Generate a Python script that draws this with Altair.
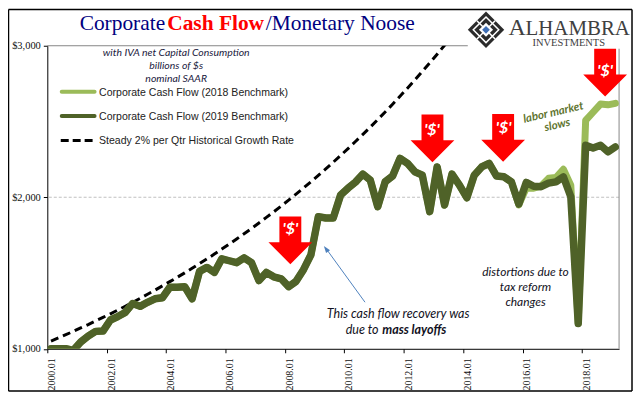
import altair as alt
import pandas as pd

ticks_q = [0, 8, 16, 24, 32, 40, 48, 56, 64, 72]
y_ticks = [1000, 2000, 3000]

cf2019 = [1000, 1000, 1001, 990, 1045, 1084, 1115, 1117, 1190, 1213, 1240, 1299, 1280, 1307, 1330, 1337,
          1406, 1406, 1410, 1330, 1511, 1537, 1504, 1594, 1581, 1568, 1600, 1568, 1450, 1504, 1475, 1462,
          1410, 1445, 1522, 1620, 1872, 1863, 1863, 2015, 2060, 2100, 2153, 2113, 1938, 2102, 2140, 2257,
          2224, 2168, 2146, 1905, 2200, 1949, 2153, 2080, 1997, 2146, 2200, 2224, 2140, 2135, 2102, 1955,
          2098, 2073, 2070, 2093, 2102, 2135, 2003, 1167, 2343, 2325, 2343, 2300, 2332]
cf2018_tail = [1950, 2060, 2060, 2075, 2125, 2130, 2185, 2080, 1170, 2507, 2561, 2615, 2610, 2620]
cf2018 = cf2019[:63] + cf2018_tail
steady = [1051, 1072, 1093, 1115, 1138, 1160, 1184, 1207, 1231, 1256, 1281, 1307, 1333, 1360, 1387, 1415,
          1443, 1472, 1501, 1531, 1562, 1593, 1625, 1658, 1691, 1725, 1759, 1794, 1830, 1867, 1904, 1942,
          1981, 2021, 2061, 2102, 2144, 2187, 2231, 2276, 2321, 2368, 2415, 2463, 2513, 2563, 2614, 2667,
          2720, 2774, 2830, 2886, 2944, 3003, 3063]

LIGHT, DARK = "#9bbb59", "#4f6228"
PL, PT, W, H = 47.5, 45.0, 574.5, 304.5
one = alt.Data(values=[{"a": 1}])


def series(vals, **kw):
    df = pd.DataFrame({"q": [i + 0.5 for i in range(len(vals))], "v": vals})
    return alt.Chart(df).mark_line(clip=True, **kw).encode(
        x=alt.X("q:Q"), y=alt.Y("v:Q"))


def txt(s, px, py, **kw):
    return alt.Chart(one).mark_text(text=s, baseline="alphabetic", **kw).encode(
        x=alt.value(px - PL), y=alt.value(py - PT))


def seg(x1, y1, x2, y2, **kw):
    return alt.Chart(one).mark_rule(**kw).encode(
        x=alt.value(x1 - PL), x2=alt.value(x2 - PL),
        y=alt.value(y1 - PT), y2=alt.value(y2 - PT))


def shape(path, size, px, py, **kw):
    return alt.Chart(one).mark_point(shape=path, size=size, **kw).encode(
        x=alt.value(px - PL), y=alt.value(py - PT))


base = alt.Chart(pd.DataFrame({"q": [0, 77], "v": [1000, 3000]})).mark_point(opacity=0).encode(
    x=alt.X("q:Q", title=None, scale=alt.Scale(domain=[0, 77], nice=False, zero=False),
            axis=alt.Axis(values=ticks_q, labelExpr="format(2000+datum.value/4,'d')+'.01'",
                          labelAngle=270, labelFont="Liberation Serif", labelFontSize=10,
                          labelColor="#111111", labelPadding=5, labelOffset=4.5, tickSize=4, tickColor="#000000",
                          domainColor="#000000", grid=False, labelOverlap=False)),
    y=alt.Y("v:Q", title=None, scale=alt.Scale(domain=[1000, 3000], nice=False, zero=False),
            axis=alt.Axis(values=y_ticks, format="$,d", labelFont="Liberation Serif", labelFontSize=10.5,
                          labelColor="#111111", tickSize=4, tickColor="#000000", labelPadding=3,
                          domainColor="#000000", grid=False)),
)

layers = [base]
# frame
layers += [
    seg(8.5, 8.5, 635, 8.5, color="#000000", strokeWidth=1.5),
    seg(8.5, 392, 635, 392, color="#000000", strokeWidth=1.5),
    seg(8.5, 8.5, 8.5, 392, color="#000000", strokeWidth=1.5),
    seg(635, 8.5, 635, 392, color="#000000", strokeWidth=1.5),
]
# gridlines and right edge
layers += [
    alt.Chart(one).mark_rule(color="#bfbfbf", strokeDash=[3, 2], strokeWidth=1).encode(y=alt.datum(2000)),
    alt.Chart(one).mark_rule(color="#868686", strokeWidth=1).encode(
        y=alt.datum(3000), x=alt.value(0), x2=alt.value(470 - PL)),
    seg(622, 48, 622, 349.5, color="#868686", strokeWidth=1),
]
layers += [
    series(steady, color="#000000", strokeWidth=3, strokeDash=[8, 5]),
    series(cf2018, color=LIGHT, strokeWidth=7, strokeCap="round", strokeJoin="round"),
    series(cf2019, color=DARK, strokeWidth=7.5, strokeCap="round", strokeJoin="round"),
]
# title
layers += [
    txt("Corporate", 80, 29, font="Liberation Serif", fontSize=21.5, color="#000080", align="left"),
    txt("Cash Flow", 168, 29, font="Liberation Serif", fontSize=21.5, fontWeight="bold", color="#ff0000", align="left"),
    txt("/Monetary Noose", 267, 29, font="Liberation Serif", fontSize=21.5, color="#000080", align="left"),
]
# subtitle
for s, yy in [("with IVA net Capital Consumption", 55.7), ("billions of $s", 68.5), ("nominal SAAR", 81)]:
    layers.append(txt(s, 177, yy, font="Lato", fontSize=10.5, fontStyle="italic", color="#1a1a40", align="center"))
# legend
layers += [
    seg(62, 91.3, 95, 91.3, color=LIGHT, strokeWidth=4, strokeCap="round"),
    seg(62, 115.7, 95, 115.7, color=DARK, strokeWidth=4, strokeCap="round"),
    seg(61, 140.3, 94, 140.3, color="#000000", strokeWidth=3, strokeDash=[8, 4]),
]
for s, yy in [("Corporate Cash Flow (2018 Benchmark)", 95), ("Corporate Cash Flow (2019 Benchmark)", 119.6),
              ("Steady 2% per Qtr Historical Growth Rate", 144)]:
    layers.append(txt(s, 99.5, yy, font="Liberation Sans", fontSize=10.6, color="#222222", align="left"))
# red arrows
ARROW = "M-0.5,-1.09 L0.5,-1.09 L0.5,0.09 L1,0.09 L0,1.09 L-1,0.09 L-0.5,0.09 Z"
for cx, cy, tx, ty in [(291.7, 240.5, 291.7, 234.5), (434.5, 138, 434, 134.5), (505.5, 137.5, 506, 132.5), (608, 72, 608, 75.5)]:
    layers.append(shape(ARROW, 1936, cx, cy, filled=True, fill="#ff0000", strokeWidth=0, opacity=1))
    layers.append(txt("'$'", tx, ty, font="Lato", fontSize=16, fontStyle="italic", fontWeight="bold", color="#ffffff"))
# annotations
layers += [
    txt("labor market", 556.7, 115.5, font="Lato", fontSize=11.5, fontStyle="italic", fontWeight="bold", color="#5f7530", angle=347),
    txt("slows", 560.7, 128, font="Lato", fontSize=11.5, fontStyle="italic", fontWeight="bold", color="#5f7530", angle=347),
    txt("This cash flow recovery was", 400, 319, font="Lato", fontSize=12.6, fontStyle="italic", color="#111122"),
    txt("due to ", 347.3, 335, font="Lato", fontSize=12.6, fontStyle="italic", color="#111122", align="left"),
    txt("mass layoffs", 384, 335, font="Lato", fontSize=12.6, fontStyle="italic", fontWeight="bold", color="#111122", align="left"),
    txt("distortions due to", 528, 276.7, font="Lato", fontSize=12, fontStyle="italic", color="#111122"),
    txt("tax reform", 528, 291.7, font="Lato", fontSize=12, fontStyle="italic", color="#111122"),
    txt("changes", 528, 306.7, font="Lato", fontSize=12, fontStyle="italic", color="#111122"),
    seg(366.7, 302.7, 327, 248, color="#4f81bd", strokeWidth=1),
    shape("M0,-1 L0.7,1 L-0.7,1 Z", 50, 327.5, 249, filled=True, fill="#4f81bd", strokeWidth=0, angle=324, opacity=1),
]
# logo
DIAM = "M0,-1 L1,0 L0,1 L-1,0 Z"
layers += [
    shape(DIAM, 1340, 488.3, 29, filled=True, fill="#2b2b2b", strokeWidth=0, opacity=1),
    shape("M-0.5,-0.5 L0.5,0.5 M0.5,-0.5 L-0.5,0.5 M0,-0.7 L0.7,0 L0,0.7 L-0.7,0 Z", 1340, 488.3, 29,
          filled=False, stroke="#ffffff", strokeWidth=1.5, opacity=1),
    shape(DIAM, 200, 488.3, 29, filled=True, fill="#ffffff", strokeWidth=0, opacity=1),
    shape(DIAM, 60, 488.3, 29, filled=True, fill="#3f6fb5", strokeWidth=0, opacity=1),
    txt("A", 511, 34, font="Liberation Serif", fontSize=24, color="#404040", align="left"),
    txt("LHAMBRA", 528, 34, font="Liberation Serif", fontSize=21, color="#404040", align="left"),
    txt("INVESTMENTS", 571.5, 45, font="Liberation Serif", fontSize=10.5, color="#404040"),
]

chart = alt.layer(*layers).properties(
    width=W, height=H,
    autosize=alt.AutoSizeParams(type="none"),
    padding={"left": PL - 8, "top": PT - 8, "right": 14, "bottom": 43.5},
    background="#ffffff",
).configure_view(stroke=None)

chart.save("out.html", embed_options={"renderer": "svg", "actions": False})
